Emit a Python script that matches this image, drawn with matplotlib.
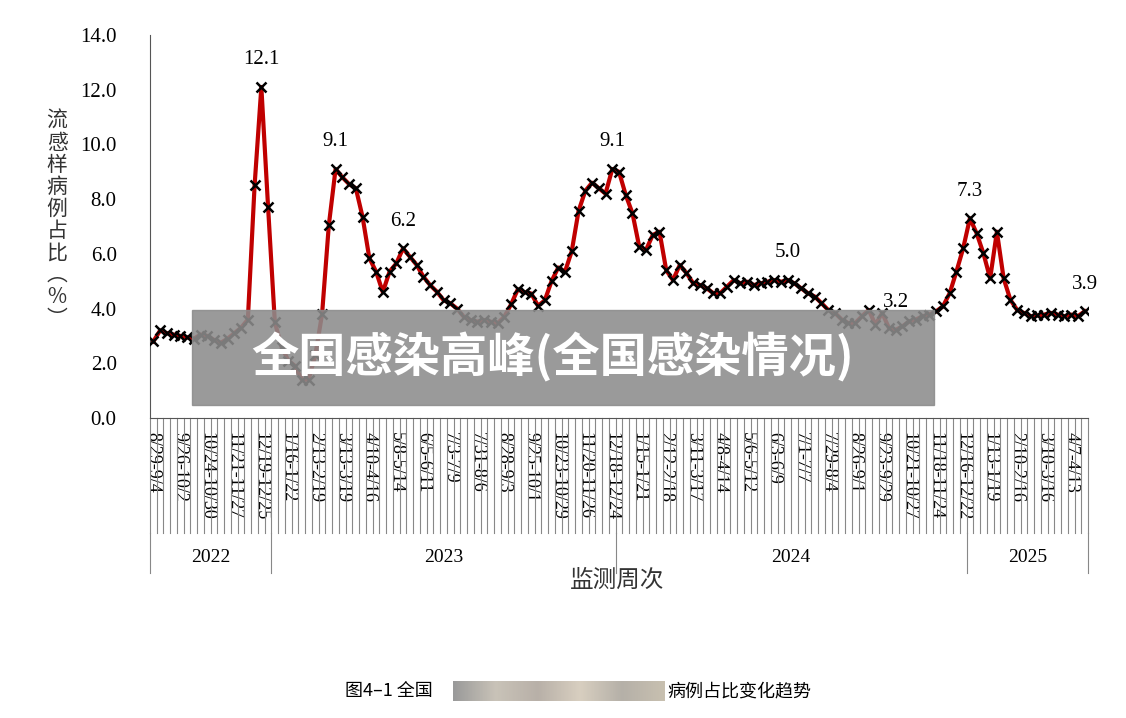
import matplotlib
matplotlib.use("Agg")
import matplotlib.pyplot as plt
import numpy as np
from matplotlib.patches import Rectangle

values = [2.8,3.2,3.1,3.05,3.0,2.95,2.9,3.05,3.0,2.85,2.75,2.9,3.1,3.3,3.6,8.5,12.1,7.7,3.5,
          2.6,2.1,1.9,1.4,1.4,2.3,3.8,7.05,9.1,8.8,8.55,8.4,7.35,5.85,5.35,4.6,5.35,5.65,6.2,5.9,5.6,
          5.17,4.86,4.62,4.31,4.19,4.0,3.7,3.58,3.52,3.58,3.52,3.46,3.7,4.15,4.7,4.6,4.55,4.1,4.3,5.0,
          5.5,5.35,6.1,7.56,8.3,8.6,8.4,8.2,9.1,9.0,8.15,7.48,6.26,6.14,6.69,6.81,5.4,5.04,5.59,5.3,
          4.92,4.86,4.74,4.56,4.56,4.8,5.04,4.92,4.98,4.86,4.92,4.98,5.04,4.98,5.04,4.92,4.74,4.56,4.44,4.2,
          3.95,3.84,3.6,3.47,3.47,3.72,3.95,3.41,3.84,3.29,3.22,3.35,3.53,3.6,3.72,3.78,3.9,4.08,4.56,5.35,
          6.2,7.3,6.75,6.02,5.1,6.81,5.1,4.32,3.95,3.84,3.72,3.75,3.78,3.84,3.78,3.72,3.78,3.72,3.9]
tick_labels = ["8/29-9/4","9/26-10/2","10/24-10/30","11/21-11/27","12/19-12/25","1/16-1/22","2/13-2/19",
               "3/13-3/19","4/10-4/16","5/8-5/14","6/5-6/11","7/3-7/9","7/31-8/6","8/28-9/3","9/25-10/1",
               "10/23-10/29","11/20-11/26","12/18-12/24","1/15-1/21","2/12-2/18","3/11-3/17","4/8-4/14",
               "5/6-5/12","6/3-6/9","7/1-7/7","7/29-8/4","8/26-9/1","9/23-9/29","10/21-10/27","11/18-11/24",
               "12/16-12/22","1/13-1/19","2/10-2/16","3/10-3/16","4/7-4/13"]
years = ["2022","2023","2024","2025"]
year_bounds = [-0.5,17.5,68.5,120.5,138.5]
annot_idx = [16,27,37,68,94,110,121,138]
annot_txt = ["12.1","9.1","6.2","9.1","5.0","3.2","7.3","3.9"]

serif = ["Liberation Serif","DejaVu Serif"]
cjk = ["Noto Sans CJK SC","DejaVu Sans"]

fig = plt.figure(figsize=(11.26,7.18), dpi=100)
ax = fig.add_axes([150/1126, 1-418/718, 938/1126, 383/718])
n = len(values)
x = np.arange(n)
ax.plot(x, values, color="#C00000", lw=3, zorder=2)
ax.plot(x, values, ls="none", marker="x", color="black", ms=7, mew=1.8, zorder=3)
ax.set_xlim(-0.5, n-0.5)
ax.set_ylim(0,14)
ax.set_yticks(np.arange(0,14.1,2))
ax.set_yticklabels([f"{v:.1f}" for v in np.arange(0,14.1,2)], fontfamily=serif, fontsize=15)
for s in ["top","right"]:
    ax.spines[s].set_visible(False)
ax.spines["left"].set_color("#555555"); ax.spines["bottom"].set_color("#555555")
ax.set_xticks(np.arange(0,n,4))
ax.set_xticklabels(tick_labels, rotation=270, fontfamily=serif, fontsize=13, va="top", ha="center")
ax.tick_params(axis="x", length=0, pad=10)
ax.tick_params(axis="y", direction="in", length=0, pad=24)
tr = ax.get_xaxis_transform()
for b in np.arange(-0.5, n, 1):
    ax.plot([b,b],[0,-0.3],transform=tr,color="#888888",lw=0.8,clip_on=False)
for b in year_bounds:
    ax.plot([b,b],[-0.3,-0.405],transform=tr,color="#888888",lw=0.8,clip_on=False)
for i,yname in enumerate(years):
    ax.text((year_bounds[i]+year_bounds[i+1])/2, -0.365, yname, transform=tr, ha="center", va="center",
            fontfamily=serif, fontsize=14)
for i,t in zip(annot_idx, annot_txt):
    ax.text(i, values[i]+0.65, t, ha="center", va="bottom", fontfamily=serif, fontsize=15)
fig.text(617/1126, 1-580/718, "监测周次", ha="center", va="center", fontfamily=cjk, fontsize=17, color="#333333")
fig.text(57/1126, 1-220/718, "\n".join("流感样病例占比") + "\n︵\n%\n︶", ha="center", va="center",
         fontfamily=cjk, fontsize=15, color="#333333", linespacing=1.0)
# banner
fig.patches.append(Rectangle((192/1126, 1-405/718), 742/1126, 95/718, transform=fig.transFigure,
                             color="#8c8c8c", alpha=0.88, zorder=5))
fig.text(553/1126, 1-357/718, "全国感染高峰(全国感染情况)", ha="center", va="center", fontfamily=cjk,
         fontsize=34, fontweight="bold", color="white", zorder=6)
# caption
fig.text(345/1126, 1-691/718, "图4–1 全国", ha="left", va="center", fontfamily=cjk, fontsize=13)
fig.text(667/1126, 1-691/718, "病例占比变化趋势", ha="left", va="center", fontfamily=cjk, fontsize=13)
grad = np.linspace(0,1,200).reshape(1,-1)
cax = fig.add_axes([453/1126, 1-701/718, 212/1126, 20/718])
cax.imshow(grad, aspect="auto", cmap=matplotlib.colors.LinearSegmentedColormap.from_list(
    "b", ["#9a9a9a","#c9c3b8","#b8b0a8","#d8cfc0","#b5b0a8","#c8c0b0"]))
cax.axis("off")
fig.savefig("out.png", dpi=100)
